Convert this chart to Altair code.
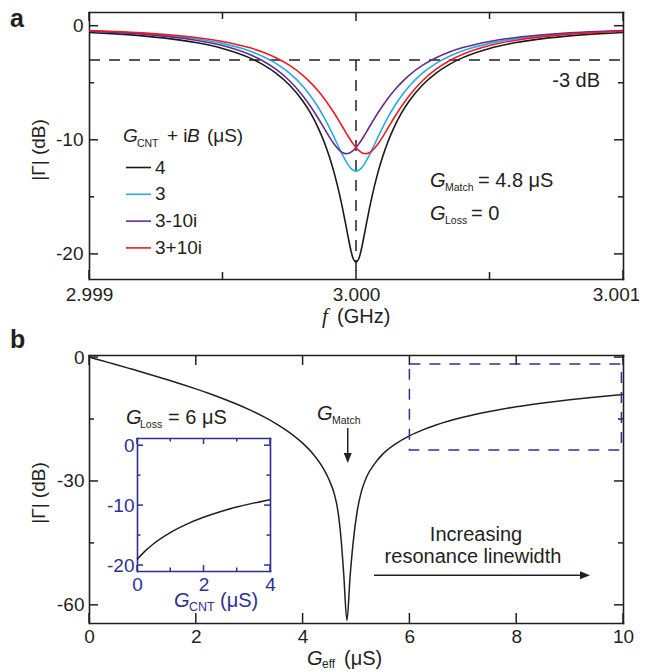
import altair as alt
import pandas as pd

# ---------------- data ----------------
# panel a: reflection |Gamma| (dB) vs frequency (GHz)
freq_ghz = [2.999, 2.9991, 2.9992, 2.9993, 2.9994, 2.9995, 2.9996, 2.99965, 2.9997, 2.99975,
            2.9998, 2.99983, 2.99986, 2.99988, 2.9999, 2.99992, 2.99994, 2.99995, 2.99996, 2.99997,
            2.99998, 2.99999, 3.0, 3.00001, 3.00002, 3.00003, 3.00004, 3.00005, 3.00006, 3.00008,
            3.0001, 3.00012, 3.00014, 3.00017, 3.0002, 3.00025, 3.0003, 3.00035, 3.0004, 3.0005,
            3.0006, 3.0007, 3.0008, 3.0009, 3.001]
gamma_g4 = [-0.59, -0.72, -0.89, -1.13, -1.48, -1.99, -2.80, -3.39, -4.15, -5.18,
            -6.58, -7.67, -9.04, -10.15, -11.47, -13.05, -14.96, -16.06, -17.23, -18.45,
            -19.61, -20.45, -20.7, -20.45, -19.61, -18.45, -17.23, -16.06, -14.96, -13.05,
            -11.47, -10.15, -9.04, -7.67, -6.58, -5.18, -4.15, -3.39, -2.80, -1.99,
            -1.48, -1.13, -0.89, -0.72, -0.59]
gamma_g3 = [-0.45, -0.55, -0.68, -0.87, -1.14, -1.55, -2.20, -2.68, -3.30, -4.14,
            -5.28, -6.16, -7.21, -8.01, -8.91, -9.88, -10.87, -11.35, -11.79, -12.18,
            -12.48, -12.67, -12.74, -12.67, -12.48, -12.18, -11.79, -11.35, -10.87, -9.88,
            -8.91, -8.01, -7.21, -6.16, -5.28, -4.14, -3.30, -2.68, -2.20, -1.55,
            -1.14, -0.87, -0.68, -0.55, -0.45]
gamma_g3m10i = [-0.48, -0.59, -0.74, -0.96, -1.27, -1.74, -2.51, -3.07, -3.81, -4.80,
                -6.11, -7.08, -8.18, -8.96, -9.74, -10.44, -10.97, -11.13, -11.21, -11.20,
                -11.10, -10.93, -10.68, -10.38, -10.04, -9.67, -9.28, -8.88, -8.49, -7.72,
                -7.01, -6.35, -5.76, -4.99, -4.33, -3.46, -2.81, -2.31, -1.92, -1.38,
                -1.03, -0.80, -0.63, -0.51, -0.42]
gamma_g3p10i = [-0.42, -0.51, -0.63, -0.80, -1.03, -1.38, -1.92, -2.31, -2.81, -3.46,
                -4.33, -4.99, -5.76, -6.35, -7.01, -7.72, -8.49, -8.88, -9.28, -9.67,
                -10.04, -10.38, -10.68, -10.93, -11.10, -11.20, -11.21, -11.13, -10.97, -10.44,
                -9.74, -8.96, -8.18, -7.08, -6.11, -4.80, -3.81, -3.07, -2.51, -1.74,
                -1.27, -0.96, -0.74, -0.59, -0.48]
series_labels = ["4", "3", "3-10i", "3+10i"]
series_colors = ["#1a1a1a", "#29abe2", "#662d91", "#ed1c24"]

# panel b: |Gamma| (dB) vs G_eff (uS)
geff_us = [0, 0.25, 0.5, 0.75, 1, 1.25, 1.5, 1.75, 2, 2.25, 2.5, 2.75, 3, 3.25, 3.5, 3.75,
           4, 4.2, 4.4, 4.5, 4.6, 4.66, 4.72, 4.77, 4.83, 4.89, 4.95, 5.02, 5.1, 5.2, 5.35,
           5.5, 5.75, 6, 6.25, 6.5, 7, 7.5, 8, 8.5, 9, 9.5, 10]
gamma_geff = [0, -0.91, -1.82, -2.74, -3.67, -4.63, -5.62, -6.64, -7.71, -8.83, -10.03,
              -11.32, -12.74, -14.31, -16.10, -18.22, -20.83, -23.52, -27.23, -29.83, -33.44,
              -37.2, -44.0, -52.5, -63.8, -53.0, -44.5, -37.5, -32.6, -29.0, -25.8,
              -23.5, -20.95, -19.08, -17.64, -16.45, -14.59, -13.17, -12.04, -11.11, -10.33,
              -9.67, -9.09]

# inset: |Gamma| (dB) vs G_CNT (uS), G_Loss = 6 uS
gcnt_us = [0, 0.25, 0.5, 1, 1.5, 2, 2.5, 3, 3.5, 4]
gamma_gcnt = [-19.08, -17.64, -16.45, -14.59, -13.17, -12.04, -11.11, -10.33, -9.67, -9.09]

# ticks
a_x_major = [2.999, 3.0, 3.001]
a_x_minor = [2.9995, 3.0005]
a_y_major = [0, -10, -20]
a_y_minor = [-5, -15]
b_x_major = [0, 2, 4, 6, 8, 10]
b_y_major = [0, -30, -60]
b_y_minor = [-15, -45]
i_x_major = [0, 2, 4]
i_x_minor = [1, 3]
i_y_major = [0, -10, -20]
i_y_minor = [-5, -15]

# ---------------- styling / layout ----------------
FONT = "Liberation Sans"
SERIF = "Liberation Serif"
TXT = "#231f20"
BLUE = "#2e3192"
W, H = 631, 664

A_X = ([2.999, 3.001], [81, 615])
A_Y = ([-22.2, 1.2], [271, 4])
B_X = ([0, 10], [81, 615])
B_Y = ([-64.4, 0.5], [615, 347])
I_X = ([0, 4], [129, 262])
I_Y = ([-21, 1.2], [563, 430])

NUM = "(datum.value < 0 ? '-' : '') + format(abs(datum.value), 'd')"


def sc(p):
    return alt.Scale(domain=p[0], range=p[1], nice=False, zero=False)


def xy(px, py, xaxis=None, yaxis=None, xf="x", yf="y"):
    return dict(x=alt.X(f"{xf}:Q", scale=sc(px), axis=xaxis),
                y=alt.Y(f"{yf}:Q", scale=sc(py), axis=yaxis))


def axis_layer(px, py, xaxis, yaxis):
    d = pd.DataFrame({"x": [px[0][0]], "y": [py[0][0]]})
    return alt.Chart(d).mark_point(opacity=0).encode(**xy(px, py, xaxis, yaxis))


def edge_axis(orient, offset, color):
    return alt.Axis(orient=orient, offset=offset, ticks=False, tickSize=0, domain=True,
                    domainColor=color, domainWidth=1.6, domainCap="square",
                    labels=False, grid=False, title=None)


def tick_marks(px, py, vals, edge, length, color):
    if edge in ("bottom", "top"):
        yv = py[0][0] if edge == "bottom" else py[0][1]
        d = pd.DataFrame({"x": vals, "y": [yv] * len(vals)})
        off = -length / 2 if edge == "bottom" else length / 2
        m = alt.Chart(d).mark_tick(orient="vertical", size=length, thickness=1.5, color=color,
                                   opacity=1, yOffset=off)
    else:
        xv = px[0][0] if edge == "left" else px[0][1]
        d = pd.DataFrame({"x": [xv] * len(vals), "y": vals})
        off = length / 2 if edge == "left" else -length / 2
        m = alt.Chart(d).mark_tick(orient="horizontal", size=length, thickness=1.5, color=color,
                                   opacity=1, xOffset=off)
    return m.encode(**xy(px, py))


def frame(px, py, xmaj, xmin, ymaj, ymin, xs, ys, color):
    left, right = px[1]
    bottom, top = py[1]
    out = [
        axis_layer(px, py, edge_axis("top", -bottom, color), edge_axis("right", left - W, color)),
        axis_layer(px, py, edge_axis("bottom", top - H, color), edge_axis("left", -right, color)),
    ]
    for edge in ("bottom", "top"):
        out.append(tick_marks(px, py, xmaj, edge, xs[0], color))
        if xmin:
            out.append(tick_marks(px, py, xmin, edge, xs[1], color))
    for edge in ("left", "right"):
        out.append(tick_marks(px, py, ymaj, edge, ys[0], color))
        if ymin:
            out.append(tick_marks(px, py, ymin, edge, ys[1], color))
    return out


def label_axis(orient, offset, values, pad, color, expr, size=19, shift=0):
    return alt.Axis(orient=orient, offset=offset, values=values, labelPadding=pad,
                    labelExpr=expr, ticks=False, tickSize=0, domain=False, grid=False,
                    title=None, labelFont=FONT, labelFontSize=size, labelColor=color,
                    labelFlush=False, labelOverlap=False, labelOffset=shift)


def labels(px, py, xv, yv, xpad, ypad, color, xexpr, size=19):
    left = px[1][0]
    bottom = py[1][0]
    return axis_layer(px, py,
                      label_axis("bottom", bottom - H, xv, xpad, color, xexpr, size),
                      label_axis("left", -left, yv, ypad, color, NUM, size))


def txt(px, py, x, y, s, size=20, style="normal", weight="normal", font=FONT, color=TXT,
        align="left", baseline="alphabetic", dx=0, dy=0, angle=0):
    d = pd.DataFrame({"x": [x], "y": [y], "t": [s]})
    return alt.Chart(d).mark_text(fontSize=size, fontStyle=style, fontWeight=weight, font=font,
                                  color=color, align=align, baseline=baseline, dx=dx, dy=dy,
                                  angle=angle).encode(text="t:N", **xy(px, py))


def hrule(px, py, x1, x2, y, color=TXT, dash=None, width=1.5):
    d = pd.DataFrame({"x": [x1], "x2": [x2], "y": [y]})
    kw = dict(color=color, strokeWidth=width)
    if dash:
        kw["strokeDash"] = dash
    return alt.Chart(d).mark_rule(**kw).encode(x2="x2:Q", **xy(px, py))


def vrule(px, py, x, y1, y2, color=TXT, dash=None, width=1.5):
    d = pd.DataFrame({"x": [x], "y": [y1], "y2": [y2]})
    kw = dict(color=color, strokeWidth=width)
    if dash:
        kw["strokeDash"] = dash
    return alt.Chart(d).mark_rule(**kw).encode(y2="y2:Q", **xy(px, py))


def head(px, py, x, y, shape, color=TXT, size=100):
    d = pd.DataFrame({"x": [x], "y": [y]})
    return alt.Chart(d).mark_point(shape=shape, filled=True, size=size, color=color,
                                   opacity=1, strokeWidth=0).encode(**xy(px, py))


layers = []

# ---------- panel a ----------
GHZ = "format(datum.value, '.3f')"
layers += frame(A_X, A_Y, a_x_major, a_x_minor, a_y_major, a_y_minor, (9, 7), (9, 5), TXT)
layers.append(labels(A_X, A_Y, a_x_major[:2], a_y_major, 6, 6, TXT, GHZ))
# last frequency label nudged left so it stays inside the page
layers.append(axis_layer(A_X, A_Y,
                         label_axis("bottom", A_Y[1][0] - H, a_x_major[2:], 6, TXT, GHZ, shift=-7),
                         None))

rows = []
for lab, vals in zip(series_labels, [gamma_g4, gamma_g3, gamma_g3m10i, gamma_g3p10i]):
    for f, v in zip(freq_ghz, vals):
        rows.append({"x": f, "y": v, "series": lab})
df_a = pd.DataFrame(rows)

layers.append(hrule(A_X, A_Y, 2.999, 3.001, -3, dash=[11, 9]))
layers.append(vrule(A_X, A_Y, 3.0, -3, -22.2, dash=[11, 9]))

layers.append(alt.Chart(df_a).mark_line(strokeWidth=1.6, interpolate="monotone").encode(
    color=alt.Color("series:N", scale=alt.Scale(domain=series_labels, range=series_colors),
                    legend=alt.Legend(orient="none", legendX=117, legendY=146, title=None,
                                      symbolType="stroke", symbolSize=625, symbolStrokeWidth=1.6,
                                      labelFont=FONT, labelFontSize=19, labelColor=TXT,
                                      rowPadding=2.8, labelOffset=3, padding=0)),
    **xy(A_X, A_Y)))

layers += [
    txt(A_X, A_Y, 2.998704, -0.115, "a", size=25, weight="bold"),
    txt(A_X, A_Y, 2.999127, -10.19, "G", size=19, style="italic"),
    txt(A_X, A_Y, 2.999127, -10.19, "CNT", size=10.5, dx=14, dy=5),
    txt(A_X, A_Y, 2.999127, -10.19, "+ i", size=19, dx=44),
    txt(A_X, A_Y, 2.999127, -10.19, "B", size=19, style="italic", dx=64),
    txt(A_X, A_Y, 2.999127, -10.19, "(\u03bcS)", size=19, dx=84),
    txt(A_X, A_Y, 3.000914, -5.37, "-3 dB", align="right"),
    txt(A_X, A_Y, 3.000277, -14.14, "G", style="italic"),
    txt(A_X, A_Y, 3.000277, -14.14, "Match", size=10.5, dx=15, dy=4),
    txt(A_X, A_Y, 3.000277, -14.14, "= 4.8 \u03bcS", dx=48),
    txt(A_X, A_Y, 3.000277, -17.03, "G", style="italic"),
    txt(A_X, A_Y, 3.000277, -17.03, "Loss", size=10.5, dx=15, dy=4),
    txt(A_X, A_Y, 3.000277, -17.03, "= 0", dx=41),
    txt(A_X, A_Y, 2.999873, -26.06, "f", size=21, style="italic", font=SERIF),
    txt(A_X, A_Y, 2.999873, -26.06, "(GHz)", dx=15),
    txt(A_X, A_Y, 2.9988127, -10.89, "|\u0393|  (dB)", size=19, angle=270,
        align="center", baseline="middle"),
]

# ---------- panel b ----------
layers += frame(B_X, B_Y, b_x_major, [], b_y_major, b_y_minor, (10, 0), (9, 5), TXT)
layers.append(labels(B_X, B_Y, b_x_major, b_y_major, 4, 5, TXT, NUM))

df_b = pd.DataFrame({"x": geff_us, "y": gamma_geff})
layers.append(alt.Chart(df_b).mark_line(strokeWidth=1.5, color=TXT, interpolate="monotone",
                                        strokeJoin="round")
              .encode(**xy(B_X, B_Y)))

d_box = pd.DataFrame({"x": [6.0], "x2": [9.97], "y": [-1.7], "y2": [-22.5]})
layers.append(alt.Chart(d_box).mark_rect(fillOpacity=0, stroke=BLUE, strokeWidth=1.5,
                                         strokeDash=[11, 9]).encode(
    x2="x2:Q", y2="y2:Q", **xy(B_X, B_Y)))

layers += [
    txt(B_X, B_Y, -1.479, 2.195, "b", size=25, weight="bold"),
    txt(B_X, B_Y, 0.693, -16.21, "G", style="italic"),
    txt(B_X, B_Y, 0.693, -16.21, "Loss", size=10.5, dx=14, dy=4),
    txt(B_X, B_Y, 0.693, -16.21, "= 6 \u03bcS", dx=42),
    txt(B_X, B_Y, 4.27, -15.24, "G", style="italic"),
    txt(B_X, B_Y, 4.27, -15.24, "Match", size=10.5, dx=15, dy=4),
    vrule(B_X, B_Y, 4.845, -17.18, -24.0),
    head(B_X, B_Y, 4.845, -24.44, "M-0.8,-1L0.8,-1L0,1Z"),
    txt(B_X, B_Y, 7.247, -44.47, "Increasing", align="center"),
    txt(B_X, B_Y, 7.191, -49.87, "resonance linewidth", align="center"),
    hrule(B_X, B_Y, 5.337, 9.2, -52.85),
    head(B_X, B_Y, 9.288, -52.85, "M-1,-0.8L1,0L-1,0.8Z"),
    txt(B_X, B_Y, 4.082, -74.57, "G", style="italic"),
    txt(B_X, B_Y, 4.082, -74.57, "eff", size=12, dx=15, dy=3),
    txt(B_X, B_Y, 4.082, -74.57, "(\u03bcS)", dx=37),
    txt(B_X, B_Y, -0.936, -32.92, "|\u0393| (dB)", size=19, angle=270,
        align="center", baseline="middle"),
]

# ---------- inset ----------
layers += frame(I_X, I_Y, i_x_major, i_x_minor, i_y_major, i_y_minor, (6, 3.5), (6, 3.5), BLUE)
layers.append(labels(I_X, I_Y, i_x_major, i_y_major, 4, 3, BLUE, NUM))
df_i = pd.DataFrame({"x": gcnt_us, "y": gamma_gcnt})
layers.append(alt.Chart(df_i).mark_line(strokeWidth=1.5, color=TXT, interpolate="monotone")
              .encode(**xy(I_X, I_Y)))
layers += [
    txt(I_X, I_Y, 1.113, -27.01, "G", style="italic", color=BLUE),
    txt(I_X, I_Y, 1.113, -27.01, "CNT", size=12.5, dx=15, dy=4, color=BLUE),
    txt(I_X, I_Y, 1.113, -27.01, "(\u03bcS)", dx=46, color=BLUE),
]

chart = alt.layer(*layers).resolve_scale(
    x="independent", y="independent", color="independent"
).properties(
    width=W, height=H, autosize=alt.AutoSizeParams(type="none"), padding=0
).configure_view(stroke=None)

chart.save("out.html", embed_options={"renderer": "svg", "actions": False})
